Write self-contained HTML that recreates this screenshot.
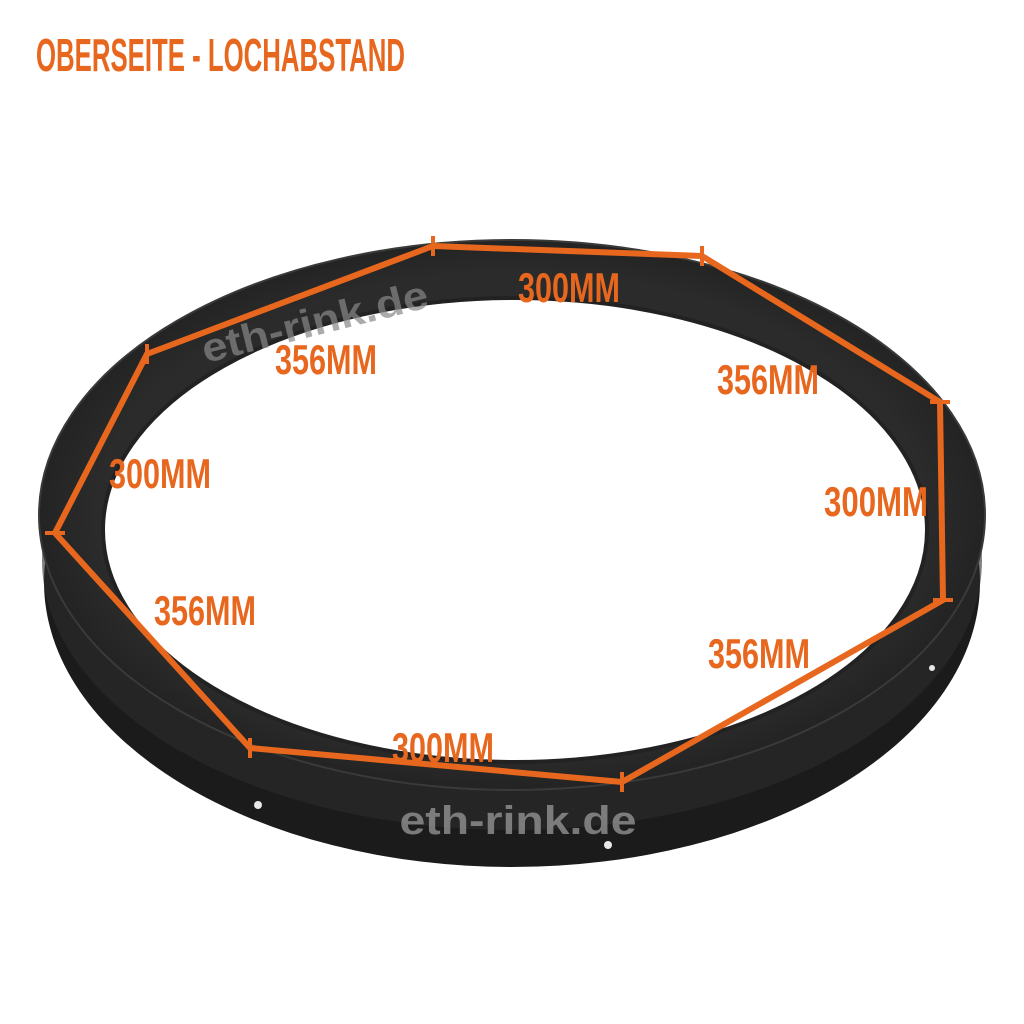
<!DOCTYPE html>
<html><head><meta charset="utf-8"><style>
html,body{margin:0;padding:0;background:#fff;}
svg{display:block}
.t{font-family:"Liberation Sans Narrow","Liberation Sans",sans-serif;font-weight:bold;fill:#e8671e;}
</style></head><body>
<svg width="1024" height="1024" viewBox="0 0 1024 1024" xmlns="http://www.w3.org/2000/svg">
<rect width="1024" height="1024" fill="#fff"/>
<defs>
<radialGradient id="g" cx="50%" cy="50%" r="55%">
<stop offset="0.8" stop-color="#2a2b2a"/><stop offset="1" stop-color="#1c1d1c"/>
</radialGradient>
<mask id="m"><rect width="1024" height="1024" fill="#fff"/><ellipse cx="515" cy="530" rx="412" ry="232" fill="#000"/></mask>
</defs>
<g mask="url(#m)">
<ellipse cx="512" cy="582" rx="468" ry="285" fill="#1a1b1a"/>
<ellipse cx="512" cy="560" rx="470" ry="270" fill="#2c2d2c" opacity="0.6"/>
<ellipse cx="512" cy="515" rx="473" ry="275" fill="url(#g)"/>
<ellipse cx="512" cy="515" rx="473" ry="275" fill="none" stroke="#3a3a38" stroke-width="2"/>
</g>
<ellipse cx="515" cy="530" rx="412" ry="232" fill="none" stroke="#222" stroke-width="4"/>
<g fill="#e8e8e8"><circle cx="258" cy="805" r="4"/><circle cx="608" cy="845" r="4"/><circle cx="932" cy="668" r="3"/></g>
<text x="318" y="335" transform="rotate(-14 318 335)" font-family="Liberation Sans,sans-serif" font-weight="bold" font-size="40" fill="#888" opacity="0.7" text-anchor="middle" textLength="232" lengthAdjust="spacingAndGlyphs">eth-rink.de</text>
<text x="518" y="834" font-family="Liberation Sans,sans-serif" font-weight="bold" font-size="40" fill="#999" opacity="0.75" text-anchor="middle" textLength="237" lengthAdjust="spacingAndGlyphs">eth-rink.de</text>
<g stroke="#e8671e" stroke-width="6" fill="none" stroke-linejoin="round">
<polygon points="433,246 702,256 940,402 943,600 622,782 250,748 55,533 147,354"/>
<g stroke-width="4">
<line x1="433" y1="236" x2="433" y2="256"/><line x1="702" y1="246" x2="702" y2="266"/>
<line x1="930" y1="402" x2="950" y2="402"/><line x1="933" y1="600" x2="953" y2="600"/>
<line x1="622" y1="772" x2="622" y2="792"/><line x1="250" y1="738" x2="250" y2="758"/>
<line x1="45" y1="533" x2="65" y2="533"/><line x1="147" y1="344" x2="147" y2="364"/>
</g></g>
<g class="t">
<text x="36" y="71" font-size="46" textLength="369" lengthAdjust="spacingAndGlyphs">OBERSEITE - LOCHABSTAND</text>
</g>
<g class="t" font-size="42">
<text x="518" y="302" textLength="102" lengthAdjust="spacingAndGlyphs">300MM</text>
<text x="275" y="374" textLength="102" lengthAdjust="spacingAndGlyphs">356MM</text>
<text x="717" y="394" textLength="102" lengthAdjust="spacingAndGlyphs">356MM</text>
<text x="109" y="488" textLength="102" lengthAdjust="spacingAndGlyphs">300MM</text>
<text x="824" y="516" textLength="104" lengthAdjust="spacingAndGlyphs">300MM</text>
<text x="154" y="625" textLength="102" lengthAdjust="spacingAndGlyphs">356MM</text>
<text x="708" y="668" textLength="102" lengthAdjust="spacingAndGlyphs">356MM</text>
<text x="392" y="762" textLength="102" lengthAdjust="spacingAndGlyphs">300MM</text>
</g>
</svg>
</body></html>
